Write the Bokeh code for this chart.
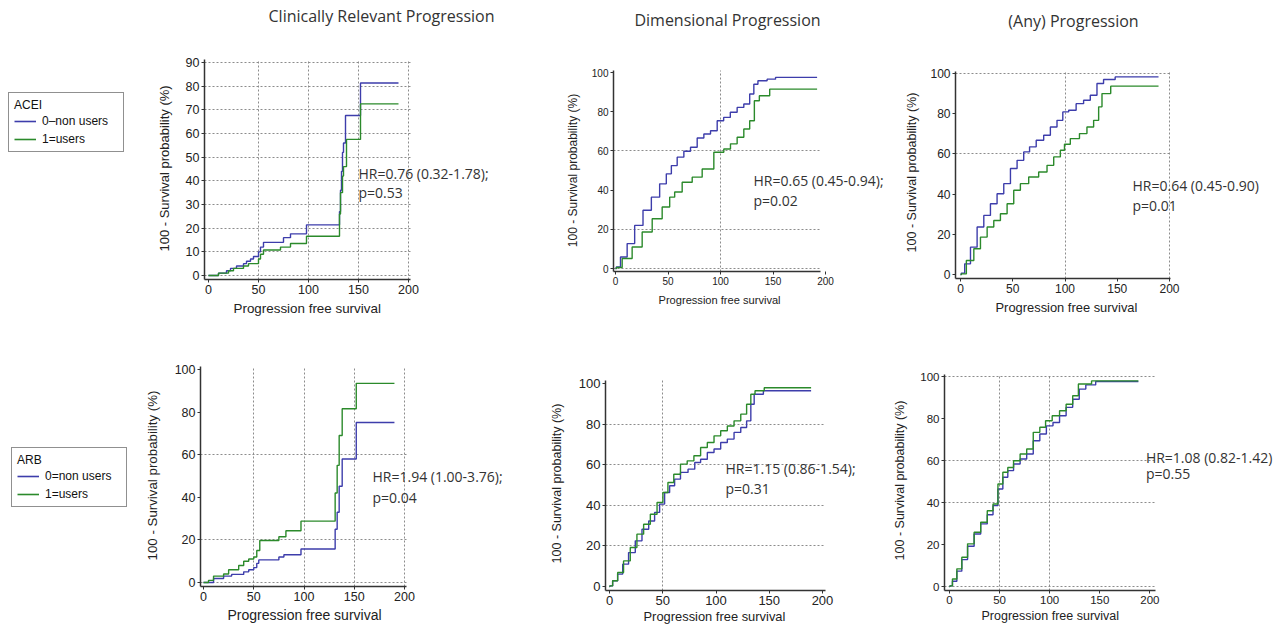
from bokeh.plotting import figure
from bokeh.models import Range1d, FixedTicker, Label, Legend, LegendItem, Title
from bokeh.layouts import column, row
from bokeh.embed import file_html
from bokeh.resources import INLINE

# ---------------- data ----------------
# ACEI - Clinically Relevant Progression
acei_crp_t_non = [0, 10, 18, 22, 28, 35, 38, 42, 45, 50, 52, 55, 75, 82, 98, 131, 132, 133, 134, 135, 137, 152, 190]
acei_crp_y_non = [0, 1, 2, 3, 4, 5, 6, 7, 8, 10, 12, 14, 16, 17.6, 21.4, 27, 36, 44, 52, 56, 67.6, 81.3, 81.3]
acei_crp_t_use = [0, 10, 20, 25, 35, 40, 50, 52, 55, 72, 82, 98, 131, 132, 134, 135, 138, 152, 190]
acei_crp_y_use = [0, 1, 2, 3, 4, 5, 7, 9, 10.8, 12, 13.5, 16.6, 26, 35, 42, 46, 57.5, 72.5, 72.5]

# ACEI - Dimensional Progression
acei_dim_t_non = [0, 1.6, 7.9, 14.3, 22.2, 30.2, 38.1, 46.0, 50.8, 55.6, 61.9, 68.3, 74.6, 81, 87.3, 93.7, 100,
                  106, 112.7, 119, 125.4, 130.2, 133.3, 138, 150.8, 154, 192]
acei_dim_y_non = [0, 0.8, 5.9, 12.7, 22.0, 29.7, 36.4, 43.2, 48.3, 52.5, 56.8, 59.8, 61.9, 66.6, 68.6, 70.3, 75.4,
                  77.1, 79.7, 82.2, 83.9, 89, 94, 95.8, 96.6, 97.5, 97.5]
acei_dim_t_use = [0, 1.6, 11.1, 20.6, 30.2, 39.7, 49.2, 54, 58.7, 68.3, 77.8, 87.3, 100, 106.3, 112.7, 119, 125.4,
                  130.2, 134.3, 139.7, 154, 192]
acei_dim_y_use = [0, 0.5, 5.1, 11, 18.6, 25.4, 31.4, 36.4, 39, 44, 46.6, 50.8, 59.3, 61, 63.6, 67, 71.2,
                  75.4, 85.6, 88.1, 91.5, 91.5]

# ACEI - (Any) Progression
acei_any_t_non = [0, 1.6, 6.4, 12.7, 19.1, 25.5, 31.8, 38.2, 44.6, 51, 57.3, 63.7, 68.5, 76.4, 82.8, 89.2, 95.5,
                  100.3, 106.7, 114.6, 121, 127.4, 133.8, 140, 156, 189.5]
acei_any_y_non = [0, 0.7, 5.3, 13.6, 23.6, 29.4, 35.2, 40.2, 45.2, 52.7, 56.8, 61, 63.5, 66.8, 69.3, 73.4, 76.7,
                  80.9, 81.7, 85, 86.7, 89.2, 95, 97, 98.3, 98.3]
acei_any_t_use = [0, 1.6, 9.6, 15.9, 22.3, 28.7, 35, 41.4, 47.8, 54.1, 60.5, 70, 79.6, 86, 92.4, 98.7, 100.3,
                  109.9, 117.8, 124.2, 130.6, 133.8, 137, 150.5, 189.5]
acei_any_y_use = [0, 0.3, 7, 12.8, 18.6, 23.6, 26.9, 30.2, 35.2, 41.9, 45.2, 48.5, 51, 54.3, 58.5, 61.8, 64.8,
                  67.6, 70.1, 73.4, 76.7, 83.4, 90, 93.7, 93.7]

# ARB - Clinically Relevant Progression
arb_crp_t_non = [0, 10, 20, 28, 40, 45, 50, 53, 55, 75, 80, 97, 131, 133, 135, 138, 152, 190]
arb_crp_y_non = [0, 1.9, 3, 3.8, 5, 6, 7, 9, 10.6, 12, 13, 15.7, 25, 33, 45.2, 58, 75.1, 75.1]
arb_crp_t_use = [0, 5, 10, 20, 25, 35, 40, 45, 50, 53, 56, 75, 82, 97, 131, 133, 135, 138, 152, 190]
arb_crp_y_use = [0, 1, 3, 4, 6, 8, 10, 11, 12, 15, 19.7, 21.5, 24.3, 28.8, 42, 55, 69, 81.6, 93.5, 93.5]

# ARB - Dimensional Progression
arb_dim_t_non = [0, 0.6, 5.3, 10, 14.8, 21, 27.4, 33.6, 40, 44.7, 49.4, 54.1, 58.8, 63.5, 69.8, 77.7, 82.4, 88.7,
                 95, 101.3, 107.5, 113.8, 120.1, 126.4, 131.1, 134.3, 137.4, 151.6, 189.3]
arb_dim_y_non = [0, 0.3, 2.8, 6.1, 11, 16.7, 22.5, 28.2, 32.3, 36.5, 40.6, 46.3, 49.6, 52.9, 56.2, 57.8, 61.1, 62.7,
                 66, 67.7, 70.9, 72.6, 75.9, 78.3, 81.6, 89.8, 94.7, 96.4, 96.4]
arb_dim_t_use = [0, 0.6, 5.3, 10, 16.4, 22.6, 28.9, 35.2, 41.5, 47.8, 52.5, 57.2, 63.5, 69.8, 76.1, 82.4, 88.7,
                 95, 101.3, 107.5, 113.8, 120.1, 126.4, 131.1, 134.3, 139, 151.6, 189.3]
arb_dim_y_use = [0, 0.3, 2.8, 6.9, 12.6, 19.2, 25.8, 30.7, 35.6, 41.4, 46.3, 51.2, 55.3, 60.3, 61.9, 64.4, 68.5,
                 70.9, 74.2, 76.7, 79.1, 81.6, 84.9, 89.8, 94.7, 96.4, 97.9, 97.9]

# ARB - (Any) Progression
arb_any_t_non = [0, 1, 4.9, 9.8, 14.8, 21.3, 27.9, 34.4, 41, 45.9, 50.8, 55.7, 60.7, 67.2, 73.8, 80.3, 86.9, 93.4,
                 100, 106.6, 113.1, 119.7, 126.2, 132.8, 139.3, 152.5, 188.5]
arb_any_y_non = [0, 0.3, 2.5, 7.3, 12.8, 19.2, 25, 29.8, 34.2, 38.5, 46.4, 52, 55.2, 58.3, 60.7, 63.1, 69.4, 72.6,
                 76.5, 78.1, 81.3, 85.3, 89.2, 94, 96, 97.6, 97.6]
arb_any_t_use = [0, 1, 4.9, 9.8, 14.8, 21.3, 27.9, 34.4, 41, 45.9, 50.8, 55.7, 60.7, 67.2, 73.8, 80.3, 86.9, 93.4,
                 98.4, 106.6, 113.1, 119.7, 126.2, 131.1, 152.5, 188.5]
arb_any_y_use = [0, 0.3, 3.6, 8.4, 13.9, 20.3, 25.8, 30.6, 36.1, 39.3, 48.8, 54.4, 56.7, 59.9, 63.1, 65.5, 73.4, 75.8,
                 78.9, 81.3, 83.7, 86.8, 90.8, 96.4, 97.9, 97.9]

column_titles = ["Clinically Relevant Progression", "Dimensional Progression", "(Any) Progression"]
hr_texts = ["HR=0.76 (0.32-1.78);", "HR=0.65 (0.45-0.94);", "HR=0.64 (0.45-0.90)",
            "HR=1.94 (1.00-3.76);", "HR=1.15 (0.86-1.54);", "HR=1.08 (0.82-1.42)"]
p_texts = ["p=0.53", "p=0.02", "p=0.01", "p=0.04", "p=0.31", "p=0.55"]
groups = ["ACEI", "ARB"]
legend_labels = [["0\u2013non users", "1=users"], ["0=non users", "1=users"]]

x_label = "Progression free survival"
y_label = "100 - Survival probability (%)"

BLUE = "#3d3dab"
GREEN = "#2b8a2b"
AXFONT = "Liberation Sans"
CALFONT = "Open Sans"
TXT = "#222222"

TITLE_H = 40
ROW1_Y, ROW1_H = 40, 282
ROW2_Y, ROW2_H = 322, 308

# ---------------- layout specs (page pixels) ----------------
# o: origin, w/h: size, fr: axes box (L, R, T, B), ftop: frame top (centres the y label),
# x0/xp, y0/yp: zero-px & px-per-unit, xl: (left px of x label, font px, standoff)
specs = [
    dict(o=(130, ROW1_Y), w=383, h=ROW1_H, fr=(204, 410, 59, 279), ftop=57, x0=208, xp=1.0, y0=275, yp=2.367,
         yt=list(range(0, 91, 10)), xg=[50, 100, 150, 200], yg=list(range(0, 91, 10)),
         tfs=12.5, yfs=13, ys=11, xl=(233, 13.4, 8), mode="after",
         data=(acei_crp_t_non, acei_crp_y_non, acei_crp_t_use, acei_crp_y_use), hr=(358, 173, 192)),
    dict(o=(513, ROW1_Y), w=385, h=ROW1_H, fr=(613, 820, 70, 271), ftop=69, x0=615, xp=1.05, y0=268, yp=1.96,
         yt=[0, 20, 40, 60, 80, 100], xg=[100], yg=[0, 20, 60],
         tfs=10, yfs=12, ys=9, xl=(658, 11.1, 12), mode="center",
         data=(acei_dim_t_non, acei_dim_y_non, acei_dim_t_use, acei_dim_y_use), hr=(753, 180, 200)),
    dict(o=(898, ROW1_Y), w=382, h=ROW1_H, fr=(955, 1170, 71, 278), ftop=66, x0=960, xp=1.045, y0=274, yp=2.01,
         yt=[0, 20, 40, 60, 80, 100], xg=[100, 200], yg=[60, 100],
         tfs=12, yfs=12.5, ys=8, xl=(995, 12.9, 8), mode="center",
         data=(acei_any_t_non, acei_any_y_non, acei_any_t_use, acei_any_y_use), hr=(1132, 185, 205)),
    dict(o=(130, ROW2_Y), w=383, h=ROW2_H, fr=(200, 406, 366, 586), ftop=364, x0=203, xp=1.005, y0=582, yp=2.13,
         yt=[0, 20, 40, 60, 80, 100], xg=[50, 100, 150, 200], yg=[0, 20, 60],
         tfs=12.5, yfs=13.3, ys=12, xl=(227, 14, 6), mode="after",
         data=(arb_crp_t_non, arb_crp_y_non, arb_crp_t_use, arb_crp_y_use), hr=(372, 476, 497)),
    dict(o=(513, ROW2_Y), w=377, h=ROW2_H, fr=(605, 825, 380, 590), ftop=376, x0=609, xp=1.065, y0=586, yp=2.03,
         yt=[0, 20, 40, 60, 80, 100], xg=[50], yg=[20, 40, 60, 80],
         tfs=13, yfs=12.5, ys=12, xl=(643, 12.9, 3), mode="center",
         data=(arb_dim_t_non, arb_dim_y_non, arb_dim_t_use, arb_dim_y_use), hr=(725, 468, 488)),
    dict(o=(890, ROW2_Y), w=390, h=ROW2_H, fr=(943, 1155, 374, 590), ftop=370, x0=948, xp=1.005, y0=586, yp=2.1,
         yt=[0, 20, 40, 60, 80, 100], xg=[50, 100], yg=[0, 40, 60, 100],
         tfs=11.5, yfs=12.5, ys=10, xl=(980, 12.5, 5), mode="center",
         data=(arb_any_t_non, arb_any_y_non, arb_any_t_use, arb_any_y_use), hr=(1145, 457, 473)),
]

# column titles: (centre x, centre y) page px
title_pos = [(381, 15), (727, 19), (1073, 20)]

# legend panels: origin, size, box top-left (page px)
legend_specs = [dict(o=(0, ROW1_Y), w=130, h=ROW1_H, tl=(8, 92)),
                dict(o=(0, ROW2_Y), w=130, h=ROW2_H, tl=(11, 447))]

# ---------------- title strip ----------------
tf = figure(width=1280, height=TITLE_H, x_range=Range1d(0, 1280), y_range=Range1d(TITLE_H, 0),
            x_axis_type=None, y_axis_type=None, min_border=0, frame_align=False,
            output_backend="svg", toolbar_location=None, outline_line_color=None,
            background_fill_color="white", border_fill_color="white")
tf.grid.visible = False
for txt, (tx, ty) in zip(column_titles, title_pos):
    tf.add_layout(Label(x=tx, y=ty, text=txt, text_align="center", text_baseline="middle",
                        text_font=CALFONT, text_font_size="16px", text_color="#333333"))

figs = []
for i, s in enumerate(specs):
    ox, oy = s["o"]
    L, R, T, B = s["fr"]
    x0, xp, y0, yp = s["x0"], s["xp"], s["y0"], s["yp"]

    def dx(px, x0=x0, xp=xp):
        return (px - x0) / xp

    def dy(py, y0=y0, yp=yp):
        return (y0 - py) / yp

    xlo, xhi = dx(L), dx(R)
    ylo, yhi = dy(B), dy(T)
    p = figure(width=s["w"], height=s["h"],
               x_range=Range1d(xlo, dx(ox + s["w"])), y_range=Range1d(ylo, dy(s["ftop"])),
               min_border_left=L - ox, min_border_right=0,
               min_border_top=s["ftop"] - oy, min_border_bottom=oy + s["h"] - B,
               frame_align=False,
               output_backend="svg", toolbar_location=None,
               outline_line_color=None, background_fill_color="white",
               border_fill_color="white")

    for ax in (p.xaxis[0], p.yaxis[0]):
        ax.axis_line_color = "#333333"
        ax.axis_line_width = 1.5
        ax.major_tick_line_color = "#333333"
        ax.major_tick_out = 3
        ax.major_tick_in = 0
        ax.minor_tick_line_color = None
        ax.major_label_standoff = 2
        ax.major_label_text_font = AXFONT
        ax.major_label_text_font_size = f"{s['tfs']}px"
        ax.major_label_text_color = TXT
    ya = p.yaxis[0]
    ya.axis_label = y_label
    ya.axis_label_text_font = AXFONT
    ya.axis_label_text_font_size = f"{s['yfs']}px"
    ya.axis_label_text_font_style = "normal"
    ya.axis_label_text_color = TXT
    ya.axis_label_standoff = s["ys"]

    xl_left, xl_fs, xl_st = s["xl"]
    p.add_layout(Title(text=x_label, align="left", offset=xl_left - L, vertical_align="top",
                       standoff=xl_st, text_font=AXFONT, text_font_size=f"{xl_fs}px",
                       text_font_style="normal", text_color=TXT), "below")

    p.xaxis.bounds = (xlo, xhi)
    p.yaxis.bounds = (ylo, yhi)
    p.xaxis.ticker = FixedTicker(ticks=[0, 50, 100, 150, 200])
    p.yaxis.ticker = FixedTicker(ticks=s["yt"])
    p.xgrid.ticker = FixedTicker(ticks=s["xg"])
    p.ygrid.ticker = FixedTicker(ticks=s["yg"])
    p.xgrid.bounds = (xlo, xhi)
    p.ygrid.bounds = (ylo, yhi)
    p.xgrid.cross_bounds = (ylo, yhi)
    p.ygrid.cross_bounds = (xlo, xhi)
    for g in (p.xgrid[0], p.ygrid[0]):
        g.grid_line_color = "#8c8c8c"
        g.grid_line_dash = "2 2"
        g.grid_line_width = 1

    tn, yn, tu, yu = s["data"]
    p.step(tn, yn, mode=s["mode"], line_color=BLUE, line_width=1.4)
    p.step(tu, yu, mode=s["mode"], line_color=GREEN, line_width=1.4)

    hx, hy, py_ = s["hr"]
    p.add_layout(Label(x=dx(hx), y=dy(hy), text=hr_texts[i], text_align="left",
                       text_baseline="middle", text_font=CALFONT, text_font_size="14px",
                       text_color="#333333"))
    p.add_layout(Label(x=dx(hx), y=dy(py_), text=p_texts[i], text_align="left",
                       text_baseline="middle", text_font=CALFONT, text_font_size="14px",
                       text_color="#333333"))
    figs.append(p)

nan = float("nan")
legend_figs = []
for gi, ls in enumerate(legend_specs):
    ox, oy = ls["o"]
    bx, bt = ls["tl"]
    lf = figure(width=ls["w"], height=ls["h"], x_range=Range1d(0, 1), y_range=Range1d(0, 1),
                x_axis_type=None, y_axis_type=None,
                min_border_left=bx - ox, min_border_top=bt - oy, min_border_right=0, min_border_bottom=0,
                frame_align=False,
                output_backend="svg", toolbar_location=None, outline_line_color=None,
                background_fill_color="white", border_fill_color="white")
    lf.grid.visible = False
    r_non = lf.line(x=[nan], y=[nan], line_color=BLUE, line_width=1.6)
    r_use = lf.line(x=[nan], y=[nan], line_color=GREEN, line_width=1.6)
    legend = Legend(items=[LegendItem(label=legend_labels[gi][0], renderers=[r_non]),
                           LegendItem(label=legend_labels[gi][1], renderers=[r_use])],
                    location="top_left", title=groups[gi],
                    title_text_font=AXFONT, title_text_font_size="12px",
                    title_text_font_style="normal", title_text_color="#111111",
                    title_standoff=2,
                    label_text_font=AXFONT, label_text_font_size="12px", label_text_color="#111111",
                    label_width=76, label_height=14, glyph_width=22, glyph_height=14,
                    label_standoff=6, spacing=4, padding=5, margin=0,
                    border_line_color="#222222", border_line_width=1.5,
                    background_fill_color="white", background_fill_alpha=1.0)
    lf.add_layout(legend)
    legend_figs.append(lf)

layout = column(tf, row(legend_figs[0], *figs[:3]), row(legend_figs[1], *figs[3:]))
open("out.html", "w").write(file_html(layout, INLINE))
